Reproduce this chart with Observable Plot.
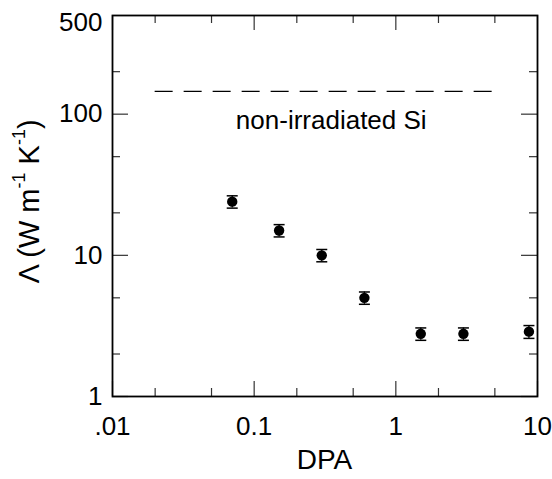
<!DOCTYPE html>
<html><head><meta charset="utf-8">
<script src="https://cdn.jsdelivr.net/npm/d3@7"></script>
<script src="https://cdn.jsdelivr.net/npm/@observablehq/plot@0.6"></script>
<style>body{margin:0;background:#fff} svg{display:block}</style>
</head><body><div id="chart"></div>
<script>
const dpa = [0.07, 0.15, 0.3, 0.6, 1.5, 3, 8.7];
const conductivity = [24, 15, 10, 5.0, 2.78, 2.78, 2.88];
const errors = [2.4, 1.5, 1.0, 0.5, 0.28, 0.28, 0.3];
const referenceValue = [145];
const referenceRange = [0.02, 5];
const referenceLabel = "non-irradiated Si";
const labelPosition = [0.35, 90];
const xMajorTicks = [0.01, 0.1, 1, 10];
const xTickLabels = [".01", "0.1", "1", "10"];
const xMinorTicks = [0.02, 0.05, 0.2, 0.5, 2, 5];
const yMajorTicks = [1, 10, 100];
const yTickLabels = ["1", "10", "100"];
const yTopTick = [500];
const yMinorTicks = [2, 5, 20, 50, 200];

const data = dpa.map((x, i) => ({x, y: conductivity[i], lo: conductivity[i] - errors[i], hi: conductivity[i] + errors[i]}));

const W = 552, H = 479, mL = 112, mR = 15, mT = 15, mB = 83;
const iw = W - mL - mR, ih = H - mT - mB;
const font = "Liberation Sans, Arial, Helvetica, sans-serif";
const cap = {draw(ctx) { ctx.moveTo(-5.5, 0); ctx.lineTo(5.5, 0); }};

const chart = Plot.plot({
  width: W, height: H,
  marginLeft: mL, marginRight: mR, marginTop: mT, marginBottom: mB,
  style: {fontFamily: font, color: "#000", background: "#fff"},
  x: {type: "log", domain: [0.01, 10]},
  y: {type: "log", domain: [1, 500]},
  marks: [
    Plot.ruleX(xMajorTicks, {x: d => d, insetTop: ih - 15, stroke: "#333", strokeWidth: 1.2}),
    Plot.ruleX(xMajorTicks, {x: d => d, insetBottom: ih - 15, stroke: "#333", strokeWidth: 1.2}),
    Plot.ruleX(xMinorTicks, {x: d => d, insetTop: ih - 8, stroke: "#333", strokeWidth: 1.2}),
    Plot.ruleX(xMinorTicks, {x: d => d, insetBottom: ih - 8, stroke: "#333", strokeWidth: 1.2}),
    Plot.ruleY(yMajorTicks, {y: d => d, insetRight: iw - 16, stroke: "#333", strokeWidth: 1.2}),
    Plot.ruleY(yMajorTicks, {y: d => d, insetLeft: iw - 16, stroke: "#333", strokeWidth: 1.2}),
    Plot.ruleY(yMinorTicks, {y: d => d, insetRight: iw - 8, stroke: "#333", strokeWidth: 1.2}),
    Plot.ruleY(yMinorTicks, {y: d => d, insetLeft: iw - 8, stroke: "#333", strokeWidth: 1.2}),
    Plot.frame({stroke: "#000", strokeWidth: 1.8}),
    Plot.axisX(xMajorTicks, {tickSize: 0, tickPadding: 20, fontSize: 26, label: null,
      tickFormat: d => xTickLabels[xMajorTicks.indexOf(d)]}),
    Plot.axisY(yMajorTicks, {tickSize: 0, tickPadding: 10, fontSize: 26, label: null,
      tickFormat: d => yTickLabels[yMajorTicks.indexOf(d)]}),
    Plot.text(yTopTick, {y: d => d, text: d => String(d), frameAnchor: "left", textAnchor: "end",
      dx: -10, dy: 7, fontSize: 26, fill: "#000"}),
    Plot.ruleY(referenceValue, {y: d => d, x1: referenceRange[0], x2: referenceRange[1],
      stroke: "#000", strokeWidth: 1.3, strokeDasharray: "18,11"}),
    Plot.text([referenceLabel], {x: labelPosition[0], y: labelPosition[1], text: d => d,
      fontSize: 26, fill: "#000"}),
    Plot.ruleX(data, {x: "x", y1: "lo", y2: "hi", stroke: "#000", strokeWidth: 1.3}),
    Plot.dot(data, {x: "x", y: "lo", symbol: cap, stroke: "#000", strokeWidth: 1.5, fill: "none"}),
    Plot.dot(data, {x: "x", y: "hi", symbol: cap, stroke: "#000", strokeWidth: 1.5, fill: "none"}),
    Plot.dot(data, {x: "x", y: "y", r: 5.2, fill: "#000", stroke: "none"})
  ]
});

const svg = d3.select(chart);
svg.append("text")
  .attr("x", mL + iw / 2).attr("y", 462)
  .attr("text-anchor", "middle").attr("dominant-baseline", "middle")
  .attr("font-size", 28).attr("font-family", font).attr("fill", "#000")
  .text("DPA");

const yl = svg.append("text")
  .attr("transform", `translate(31,${mT + ih / 2 - 4}) rotate(-90)`)
  .attr("text-anchor", "middle").attr("dominant-baseline", "middle")
  .attr("font-size", 29).attr("font-family", font).attr("fill", "#000");
yl.append("tspan").text("\u039B (W m");
yl.append("tspan").attr("font-size", 18).attr("dy", -11).text("-1");
yl.append("tspan").attr("dy", 11).text(" K");
yl.append("tspan").attr("font-size", 18).attr("dy", -11).text("-1");
yl.append("tspan").attr("dy", 11).text(")");

document.getElementById("chart").appendChild(chart);
</script>
</body></html>
